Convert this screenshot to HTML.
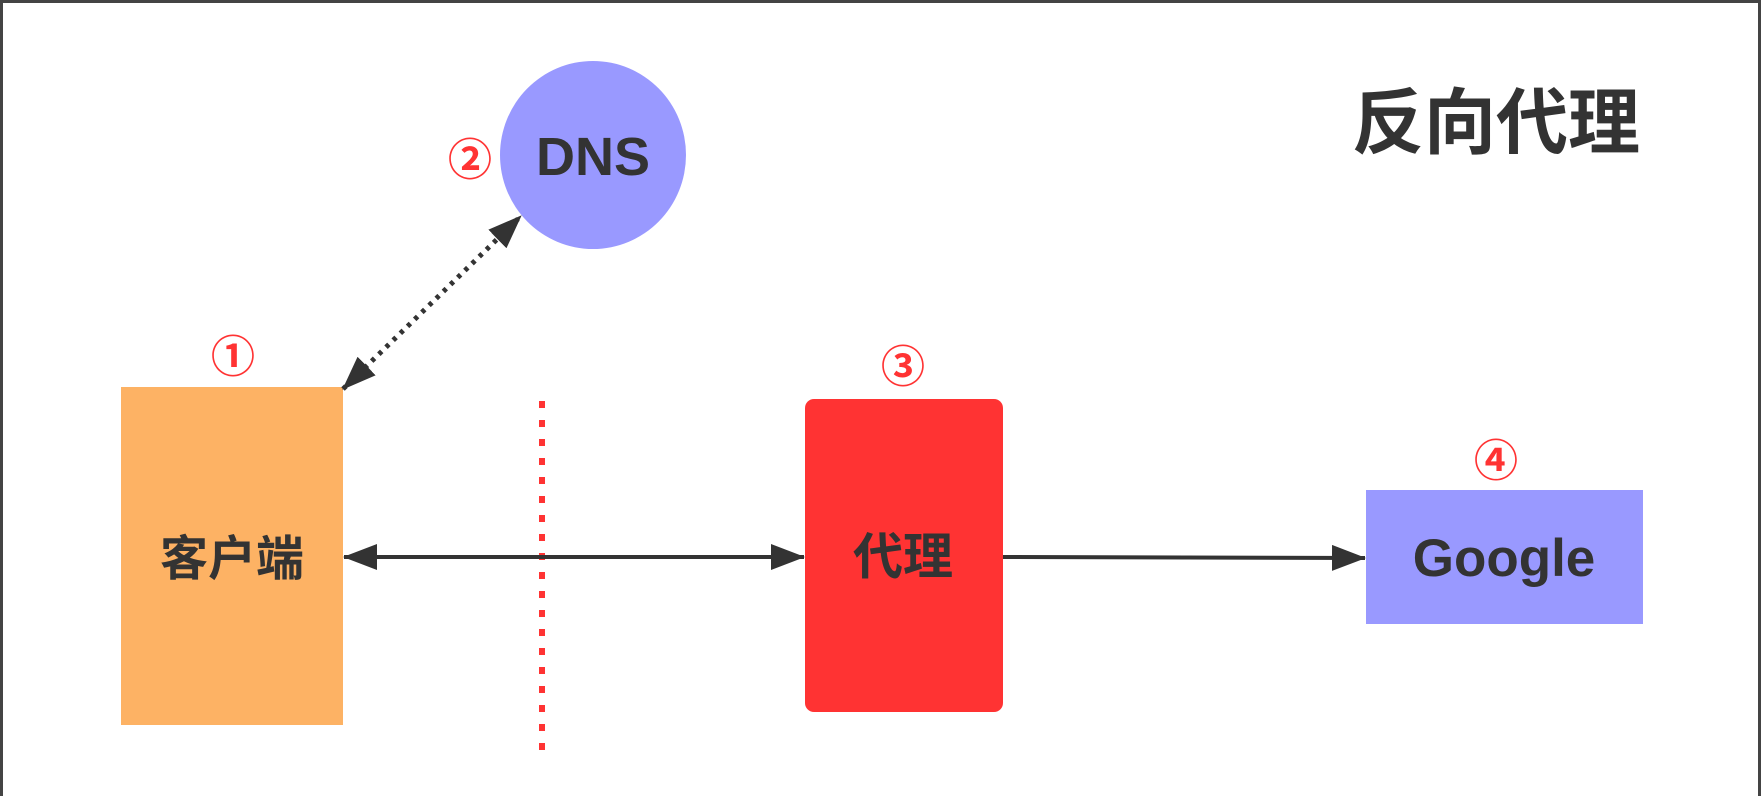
<!DOCTYPE html>
<html><head><meta charset="utf-8"><style>
html,body{margin:0;padding:0;background:#fff}
svg{display:block}
text{font-family:"Liberation Sans","Noto Sans CJK SC",sans-serif;font-weight:bold}
</style></head><body>
<svg width="1762" height="796" viewBox="0 0 1762 796" xmlns="http://www.w3.org/2000/svg">
<defs>
<marker id="ah" markerWidth="34" markerHeight="26" refX="33" refY="13" orient="auto-start-reverse" markerUnits="userSpaceOnUse">
<path d="M0,0 L34,13 L0,26 Z" fill="#333"/>
</marker>
</defs>
<rect x="1.5" y="1.5" width="1758" height="800" fill="#fff" stroke="#444" stroke-width="3"/>
<text x="1496" y="148" font-size="72" fill="#333" text-anchor="middle">反向代理</text>
<ellipse cx="593" cy="155" rx="93" ry="94" fill="#9999ff"/>
<text x="593" y="175" font-size="54" fill="#333" text-anchor="middle">DNS</text>
<text x="470" y="175" font-size="44" fill="#ff3333" text-anchor="middle">②</text>
<rect x="121" y="387" width="222" height="338" fill="#fdb264"/>
<text x="232" y="575" font-size="48" fill="#333" text-anchor="middle">客户端</text>
<text x="233" y="372" font-size="44" fill="#ff3333" text-anchor="middle">①</text>
<line x1="343" y1="389" x2="521" y2="216" stroke="#333" stroke-width="5" stroke-dasharray="4,6" marker-start="url(#ah)" marker-end="url(#ah)"/>
<line x1="542" y1="401" x2="542" y2="762" stroke="#ff3333" stroke-width="6" stroke-dasharray="7,12"/>
<rect x="805" y="399" width="198" height="313" rx="9" fill="#ff3333"/>
<text x="903" y="574" font-size="50" fill="#333" text-anchor="middle">代理</text>
<text x="903" y="382" font-size="44" fill="#ff3333" text-anchor="middle">③</text>
<rect x="1366" y="490" width="277" height="134" fill="#9999ff"/>
<text x="1504" y="576" font-size="53" fill="#333" text-anchor="middle">Google</text>
<text x="1496" y="476" font-size="44" fill="#ff3333" text-anchor="middle">④</text>
<line x1="344" y1="557" x2="804" y2="557" stroke="#333" stroke-width="4" marker-start="url(#ah)" marker-end="url(#ah)"/>
<line x1="1003" y1="557" x2="1365" y2="558" stroke="#333" stroke-width="4" marker-end="url(#ah)"/>
</svg>
</body></html>
